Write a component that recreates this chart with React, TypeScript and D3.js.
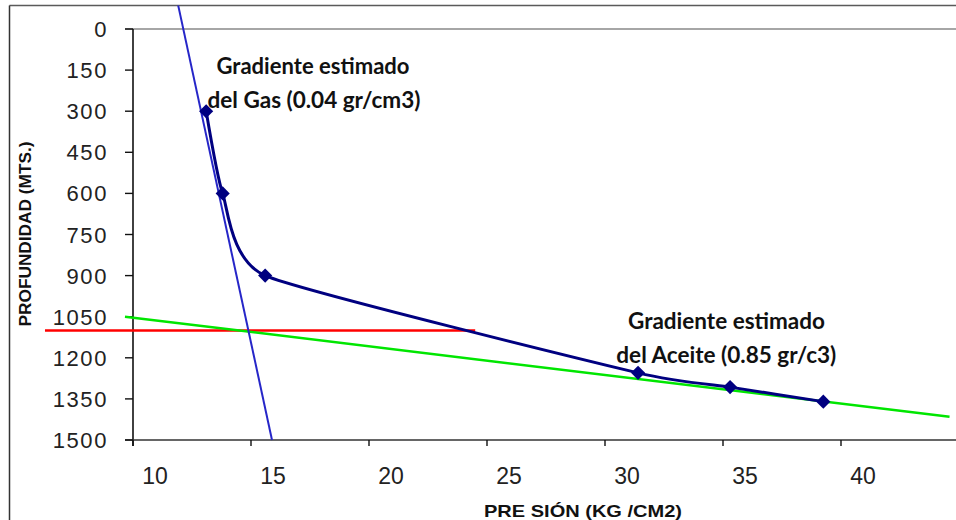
import React from "react";
import * as d3 from "d3";

// Measured data (pressure kg/cm2, depth m)
const pressures = [13.1, 13.8, 15.6, 31.4, 35.3, 39.25];
const depths = [300, 600, 900, 1255, 1307, 1360];

// Gas gradient line endpoints
const gasLineP = [11.91, 15.89];
const gasLineD = [-88, 1500];
// Oil gradient line endpoints
const oilLineP = [9.66, 44.6];
const oilLineD = [1050, 1415];
// Contact (red) line
const contactP = [6.27, 24.5];
const contactD = [1100, 1100];

const xTicks = [10, 15, 20, 25, 30, 35, 40];
const yTicks = [0, 150, 300, 450, 600, 750, 900, 1050, 1200, 1350, 1500];

const W = 956;
const H = 520;

export default function App() {
  const x = d3.scaleLinear().domain([10, 45]).range([133, 133 + 35 * 23.6]);
  const y = d3.scaleLinear().domain([0, 1500]).range([29, 440]);

  const pts = pressures.map((p, i) => [x(p), y(depths[i])] as [number, number]);
  const curve = d3.line().curve(d3.curveCardinal.tension(0.5))(pts) || "";
  const seg = (ps: number[], ds: number[]) =>
    d3.line()(ps.map((p, i) => [x(p), y(ds[i])] as [number, number])) || "";

  const diamond = d3.symbol().type(d3.symbolSquare).size(100)() || "";

  const arial = "'Liberation Sans', Arial, sans-serif";
  const calibri = "Lato, 'Open Sans', sans-serif";

  return (
    <svg
      width={W}
      height={H}
      style={{ position: "absolute", left: 0, top: 0, background: "#fff" }}
    >
      <rect x={0} y={0} width={W} height={H} fill="#fff" />
      <defs>
        <clipPath id="frame">
          <rect x={9.5} y={5.5} width={W} height={H} />
        </clipPath>
      </defs>
      {/* outer frame */}
      <line x1={9.5} y1={5.5} x2={W} y2={5.5} stroke="#5a5a5a" strokeWidth={1.5} />
      <line x1={9.5} y1={5.5} x2={9.5} y2={H} stroke="#333" strokeWidth={1.5} />

      {/* plot area top border */}
      <line x1={125} y1={29} x2={W} y2={29} stroke="#888" strokeWidth={1.3} />

      {/* axes */}
      <line x1={133} y1={29} x2={133} y2={446} stroke="#111" strokeWidth={1.6} />
      <line x1={125} y1={440} x2={W} y2={440} stroke="#333" strokeWidth={1.6} />
      {yTicks.map((t) => (
        <g key={"yt" + t}>
          <line x1={125} x2={133} y1={y(t)} y2={y(t)} stroke="#111" strokeWidth={1.4} />
          <text
            x={108}
            y={y(t) + 8}
            textAnchor="end"
            fontFamily={arial}
            fontSize={22}
            letterSpacing={1.6}
            fill="#222"
          >
            {t}
          </text>
        </g>
      ))}
      {xTicks.map((t) => (
        <g key={"xt" + t}>
          <line x1={x(t)} x2={x(t)} y1={440} y2={446} stroke="#111" strokeWidth={1.4} />
          <text
            x={x(t) + 22}
            y={484}
            textAnchor="middle"
            fontFamily={arial}
            fontSize={23}
            fill="#222"
          >
            {t}
          </text>
        </g>
      ))}

      {/* axis titles */}
      <text
        transform="translate(31,234) rotate(-90)"
        textAnchor="middle"
        fontFamily={arial}
        fontWeight="bold"
        fontSize={17}
        textLength={185}
        lengthAdjust="spacingAndGlyphs"
        fill="#111"
      >
        PROFUNDIDAD (MTS.)
      </text>
      <text
        x={583}
        y={517}
        textAnchor="middle"
        fontFamily={arial}
        fontWeight="bold"
        fontSize={17}
        textLength={198}
        lengthAdjust="spacingAndGlyphs"
        fill="#111"
      >
        PRE SIÓN (KG /CM2)
      </text>

      <g clipPath="url(#frame)">
        {/* red contact line */}
        <path d={seg(contactP, contactD)} stroke="#ff0000" strokeWidth={2.5} fill="none" />
        {/* oil gradient */}
        <path d={seg(oilLineP, oilLineD)} stroke="#00e600" strokeWidth={2.5} fill="none" />
        {/* gas gradient */}
        <path d={seg(gasLineP, gasLineD)} stroke="#2626c8" strokeWidth={2} fill="none" />
        {/* measured curve */}
        <path d={curve} stroke="#000080" strokeWidth={3} fill="none" />
        {pts.map((p, i) => (
          <path
            key={"m" + i}
            d={diamond}
            transform={`translate(${p[0]},${p[1]}) rotate(45)`}
            fill="#000080"
          />
        ))}
      </g>

      {/* annotations */}
      <g fontFamily={calibri} fontWeight="bold" fontSize={22} fill="#111" textAnchor="middle">
        <text x={313} y={74} textLength={193} lengthAdjust="spacingAndGlyphs">
          Gradiente estimado
        </text>
        <text x={314} y={108} textLength={213} lengthAdjust="spacingAndGlyphs">
          del Gas (0.04 gr/cm3)
        </text>
        <text x={726.5} y={329} textLength={197} lengthAdjust="spacingAndGlyphs">
          Gradiente estimado
        </text>
        <text x={726.3} y={363} textLength={220} lengthAdjust="spacingAndGlyphs">
          del Aceite (0.85 gr/c3)
        </text>
      </g>
    </svg>
  );
}
